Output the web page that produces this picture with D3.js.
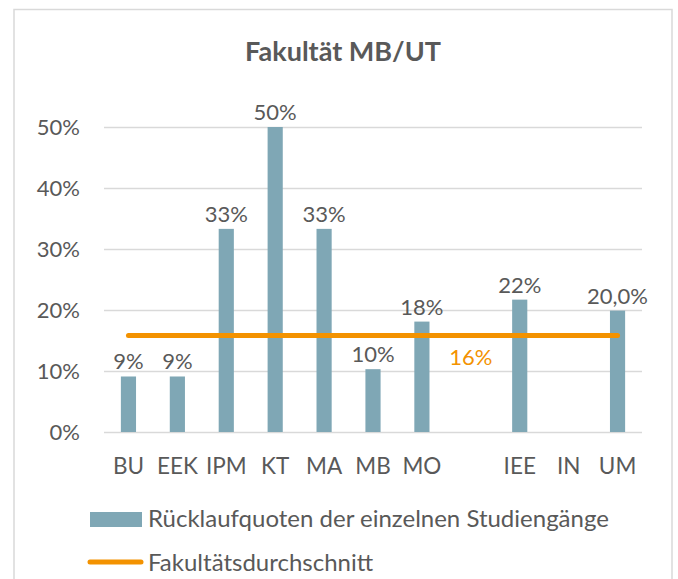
<!DOCTYPE html>
<meta charset="utf-8">
<head>
  <style>
    body { margin:0; background:#fff; }
    text { font-family: Lato, "Open Sans", sans-serif; fill:#595959; }
  </style>
  <script src="https://d3js.org/d3.v7.min.js"></script>
</head>
<body>
<svg width="678" height="579"></svg>
<script>
  // data
  var categories = ["BU", "EEK", "IPM", "KT", "MA", "MB", "MO", "", "IEE", "IN", "UM"]
  var quoten     = [0.091, 0.091, 0.333, 0.50, 0.333, 0.103, 0.181, null, 0.217, null, 0.199]
  var quoteLabels = ["9%", "9%", "33%", "50%", "33%", "10%", "18%", "", "22%", "", "20,0%"]
  var durchschnitt = 0.158
  var durchschnittLabel = "16%"
  var yTicks = [0, 0.1, 0.2, 0.3, 0.4, 0.5]

  var barColor = '#7fa7b5'
  var orange = '#f39200'

  var svg = d3.select('svg')

  // chart frame
  svg.append('rect')
    .attr('x', 14).attr('y', 9.5)
    .attr('width', 658).attr('height', 600)
    .attr('fill', '#fff')
    .attr('stroke', '#d9d9d9').attr('stroke-width', 1.5)

  svg.append('text')
    .attr('x', 343).attr('y', 61)
    .attr('text-anchor', 'middle')
    .attr('font-size', 27).attr('font-weight', 'bold')
    .text('Fakultät MB/UT')

  var x = d3.scaleBand()
    .domain(categories)
    .range([104, 642])
    .paddingInner(0.69)
    .paddingOuter(0.345)

  var y = d3.scaleLinear().domain([0, 0.5]).range([432, 127])

  // y axis with gridlines
  var yAxis = svg.append('g')
    .attr('transform', 'translate(104,0)')
    .call(d3.axisLeft(y).tickValues(yTicks).tickFormat(d3.format('.0%'))
      .tickSize(-538).tickPadding(24))
  yAxis.select('.domain').remove()
  yAxis.selectAll('line').attr('stroke', '#d9d9d9').attr('stroke-width', 1.5)
  yAxis.selectAll('text').attr('font-size', 22).attr('fill', '#595959')
    .attr('font-family', 'Lato, "Open Sans", sans-serif')

  // x axis labels
  var xAxis = svg.append('g')
    .attr('transform', 'translate(0,432)')
    .call(d3.axisBottom(x).tickSize(0))
  xAxis.select('.domain').remove()
  xAxis.selectAll('text').attr('font-size', 22.5).attr('fill', '#595959')
    .attr('font-family', 'Lato, "Open Sans", sans-serif')
    .attr('dy', null).attr('y', 42)

  var rows = categories.map(function (c, i) {
    return { cat: c, value: quoten[i], label: quoteLabels[i] }
  }).filter(function (d) { return d.value != null })

  svg.append('g').selectAll('rect')
    .data(rows)
    .enter().append('rect')
      .attr('x', function (d) { return x(d.cat) })
      .attr('width', x.bandwidth())
      .attr('y', function (d) { return y(d.value) })
      .attr('height', function (d) { return y(0) - y(d.value) })
      .attr('fill', barColor)

  svg.append('g').selectAll('text')
    .data(rows)
    .enter().append('text')
      .attr('x', function (d) { return x(d.cat) + x.bandwidth() / 2 })
      .attr('y', function (d) { return y(d.value) - 7 })
      .attr('text-anchor', 'middle')
      .attr('font-size', 22)
      .text(function (d) { return d.label })

  // faculty average line
  var first = categories[0], last = categories[categories.length - 1]
  svg.append('line')
    .attr('x1', x(first) + x.bandwidth() / 2)
    .attr('x2', x(last) + x.bandwidth() / 2)
    .attr('y1', y(durchschnitt)).attr('y2', y(durchschnitt))
    .attr('stroke', orange).attr('stroke-width', 5)
    .attr('stroke-linecap', 'round')

  svg.append('text')
    .attr('x', x("") + x.bandwidth() / 2)
    .attr('y', y(durchschnitt) + 29)
    .attr('text-anchor', 'middle')
    .attr('font-size', 22)
    .style('fill', orange)
    .text(durchschnittLabel)

  // legend
  var legend = svg.append('g')
  legend.append('rect')
    .attr('x', 90).attr('y', 512).attr('width', 52).attr('height', 15)
    .attr('fill', barColor)
  legend.append('text')
    .attr('x', 148).attr('y', 527).attr('font-size', 24)
    .text('Rücklaufquoten der einzelnen Studiengänge')
  legend.append('line')
    .attr('x1', 90).attr('x2', 141).attr('y1', 562).attr('y2', 562)
    .attr('stroke', orange).attr('stroke-width', 5).attr('stroke-linecap', 'round')
  legend.append('text')
    .attr('x', 148).attr('y', 571).attr('font-size', 24)
    .text('Fakultätsdurchschnitt')
</script>
</body>
